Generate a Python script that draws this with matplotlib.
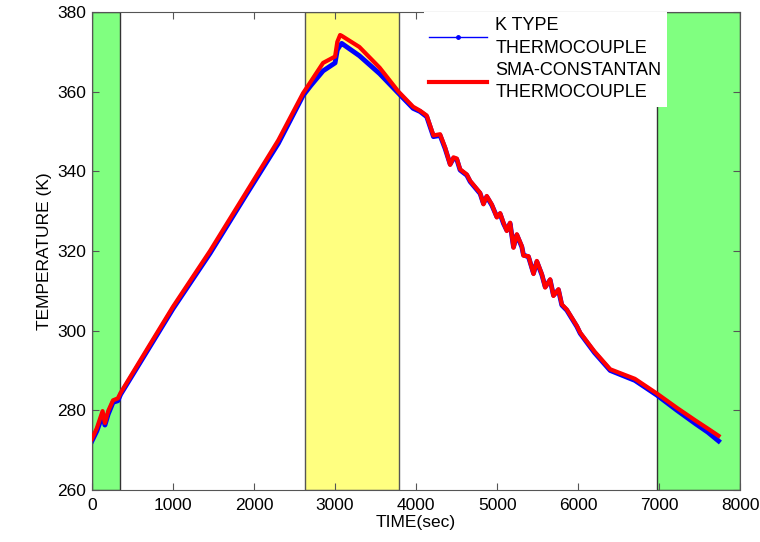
import matplotlib.pyplot as plt
from matplotlib.lines import Line2D

plt.rcParams['font.family'] = ['Liberation Sans', 'DejaVu Sans']

# time (sec) and temperatures (K)
time = [0, 60, 131, 160, 200, 260, 320, 354, 700, 1000, 1457, 1900, 2300, 2605,
        2700, 2852, 3000, 3028, 3062, 3082, 3300, 3550, 3782, 3963,
        4049, 4131, 4214, 4296, 4358, 4420, 4461, 4502, 4543, 4626, 4667,
        4790, 4831, 4872, 4934, 4996, 5037, 5078, 5119, 5160, 5202, 5243,
        5305, 5325, 5387, 5449, 5490, 5552, 5593, 5654, 5695, 5757, 5798,
        5860, 5984, 6025, 6200, 6395, 6700, 6972, 7219, 7450, 7600, 7732]
k_type = [272.3, 274.8, 278.8, 276.3, 279.0, 282.0, 282.4, 284.0, 295.5, 305.5, 319.4, 334.0, 347.0, 359.0,
          361.5, 365.2, 367.2, 370.5, 371.6, 372.1, 369.0, 364.5, 359.6, 355.8,
          355.0, 353.7, 348.7, 349.0, 345.7, 341.8, 343.2, 343.0, 340.3, 339.0, 337.4,
          334.4, 331.9, 333.6, 331.5, 328.6, 329.3, 326.9, 325.2, 326.9, 321.0, 324.0,
          321.0, 319.0, 318.5, 314.4, 317.3, 314.0, 311.0, 312.7, 308.9, 310.2, 306.4,
          305.1, 301.0, 299.3, 294.5, 290.0, 287.5, 283.8, 280.0, 276.6, 274.5, 272.3]
sma = [272.8, 275.5, 279.8, 276.8, 279.8, 282.5, 283.0, 284.4, 296.0, 306.0, 320.0, 334.6, 347.8, 359.6,
       362.5, 367.2, 368.8, 372.5, 374.2, 374.0, 371.2, 366.0, 360.0, 356.2,
       355.2, 354.0, 349.0, 349.3, 346.0, 341.6, 343.5, 343.2, 340.5, 339.2, 337.6,
       334.6, 331.7, 333.8, 331.7, 328.4, 329.5, 327.1, 325.0, 327.1, 320.8, 324.2,
       321.2, 318.8, 318.7, 314.2, 317.5, 314.2, 310.8, 312.9, 308.7, 310.4, 306.6,
       305.3, 301.2, 299.5, 294.8, 290.3, 287.9, 284.2, 280.6, 277.4, 275.4, 273.6]

green_spans = [(0, 345), (6975, 8000)]
yellow_span = (2630, 3790)

fig = plt.figure(figsize=(7.6, 5.42), dpi=100)
ax = fig.add_axes([0.121, 0.096, 0.853, 0.882])

for a, b in green_spans:
    ax.axvspan(a, b, facecolor='#80ff80', edgecolor='#333333', lw=1, zorder=0)
ax.axvspan(yellow_span[0], yellow_span[1], facecolor='#ffff80', edgecolor='#555555', lw=1, zorder=0)

ax.plot(time, k_type, color='#0000ff', lw=3.5, zorder=2)
ax.plot(time, sma, color='#ff0000', lw=3, zorder=3)

ax.set_xlim(0, 8000)
ax.set_ylim(260, 380)
ax.set_xticks(range(0, 8001, 1000))
ax.set_yticks(range(260, 381, 20))
ax.tick_params(direction='in', top=True, right=True, labelsize=12.5, length=5, color='#555555')
ax.tick_params(axis='x', pad=6)
ax.tick_params(axis='y', pad=4)
for s in ax.spines.values():
    s.set_color('#555555')
ax.set_xlabel('TIME(sec)', fontsize=12.5, labelpad=1)
ax.set_ylabel('TEMPERATURE (K)', fontsize=12.5, labelpad=4)

handles = [Line2D([], [], color='#0000ff', lw=1, marker='.', markersize=5),
           Line2D([], [], color='#ff0000', lw=3)]
labels = ['K TYPE\nTHERMOCOUPLE', 'SMA-CONSTANTAN\nTHERMOCOUPLE']
leg = ax.legend(handles, labels, loc='upper left', bbox_to_anchor=(0.512, 1.0),
                fontsize=13, frameon=True, framealpha=1, edgecolor='white',
                fancybox=False, borderaxespad=0, handlelength=3.2,
                labelspacing=0.3, borderpad=0.3, handletextpad=0.45)
for t in leg.get_texts():
    t.set_linespacing(1.4)
leg.get_frame().set_linewidth(0)
leg.set_zorder(5)

fig.savefig('out.png', dpi=100)
